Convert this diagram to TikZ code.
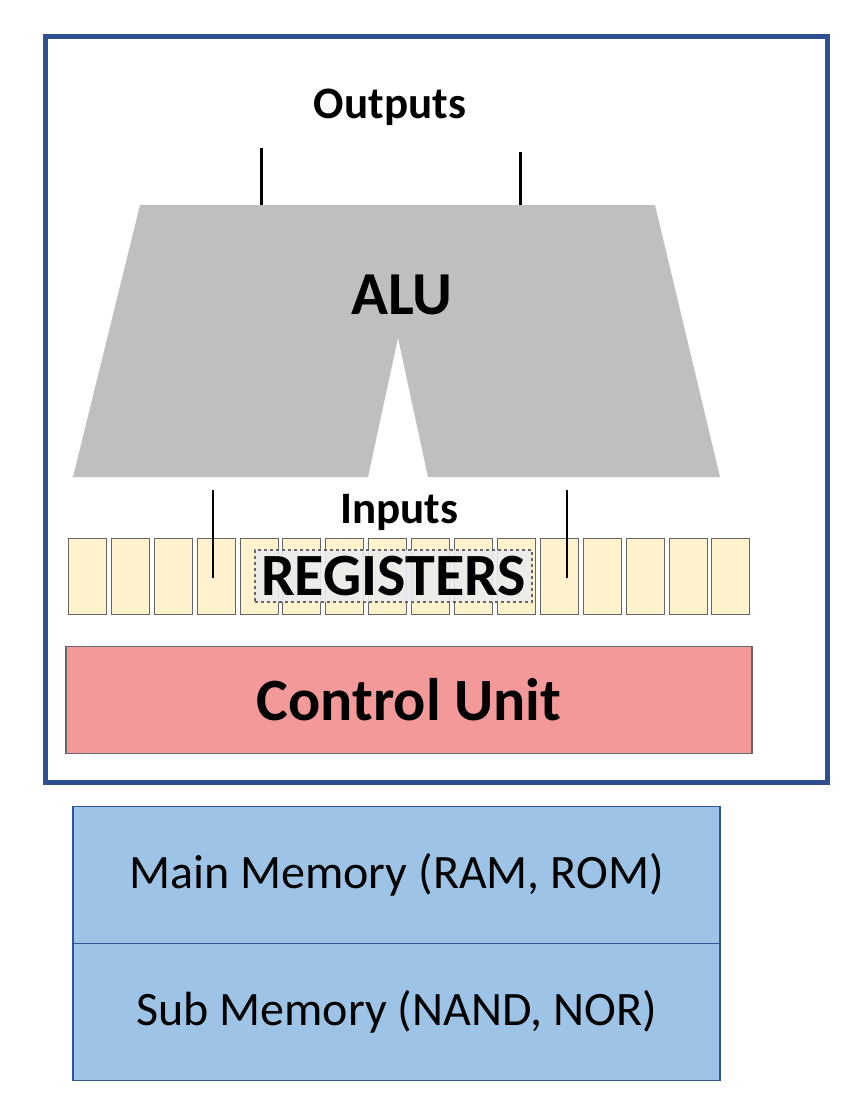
\documentclass[tikz,border=0pt]{standalone}
\usepackage{fontspec}
\setmainfont{Carlito}
\definecolor{cpub}{HTML}{2F5090}
\definecolor{regf}{HTML}{FFF2CC}
\definecolor{memf}{HTML}{9DC3E6}
\definecolor{memd}{HTML}{2F5597}
\definecolor{cuf}{HTML}{F4999A}
\begin{document}
\begin{tikzpicture}[x=1pt,y=-1pt,
 reg/.style={draw=gray!80!black,fill=regf,line width=1pt},
 mem/.style={draw=memd,fill=memf,line width=1.2pt,minimum width=647pt,minimum height=137pt,inner sep=0pt,font=\fontsize{48}{52}\selectfont},
 wire/.style={line width=3pt,black}]
\useasboundingbox (0,0) rectangle (866,1116);
\node[draw=cpub,line width=5pt,minimum width=782pt,minimum height=745pt,inner sep=0pt] (cpu) at (436,409.5) {};
\fill[gray!50] (140,205) -- (655,205) -- (720,477) -- (428,477) -- (398,338) -- (368,477) -- (73,477) -- cycle;
\node[font=\bfseries\fontsize{61}{66}\selectfont] (alu) at (402,295) {ALU};
\node[font=\bfseries\fontsize{45}{50}\selectfont] (out) at (390,107) {Outputs};
\coordinate (o1a) at (261,148); \coordinate (o1b) at (261,205);
\coordinate (o2a) at (520,152); \coordinate (o2b) at (520,205);
\draw[wire] (o1a) -- (o1b); \draw[wire] (o2a) -- (o2b);
\foreach \i in {0,...,15}{
 \node[reg,minimum width=38pt,minimum height=76pt,inner sep=0pt] (r\i) at (66+21.4+42.9*\i,576.5) {};}
\node[draw=gray!80!black,dashed,line width=1.5pt,fill=gray!15,fill opacity=0.9,text opacity=1,minimum width=277pt,minimum height=52pt,inner sep=0pt,font=\bfseries\fontsize{60}{64}\selectfont] (regl) at (393.5,576) {REGISTERS};
\node[font=\bfseries\fontsize{45}{50}\selectfont] (in) at (399,512) {Inputs};
\coordinate (i1a) at (213,490); \coordinate (i1b) at (213,578);
\coordinate (i2a) at (567,490); \coordinate (i2b) at (567,578);
\draw[line width=2pt] (i1a) -- (i1b); \draw[line width=2pt] (i2a) -- (i2b);
\node[draw=gray!80!black,fill=cuf,line width=1.5pt,minimum width=686pt,minimum height=107pt,inner sep=0pt,font=\bfseries\fontsize{60}{64}\selectfont] (cu) at (409,700) {Control Unit};
\node[mem] (main) at (396.5,875) {Main Memory (RAM, ROM)};
\node[mem] (sub) at (396.5,1012) {Sub Memory (NAND, NOR)};
\end{tikzpicture}
\end{document}
